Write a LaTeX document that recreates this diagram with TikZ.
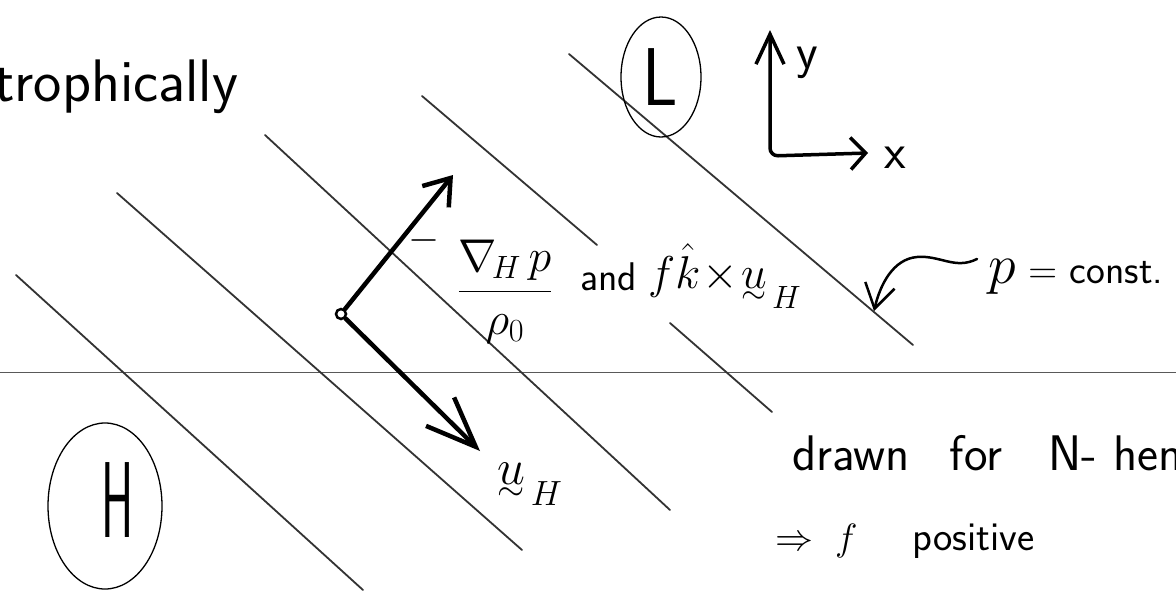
\RequirePackage{fix-cm}
\documentclass[tikz,border=0pt]{standalone}
\usepackage{amsmath}
\usepackage{graphicx}
\usetikzlibrary{arrows.meta,shapes.geometric}
\begin{document}
\begin{tikzpicture}[x=1pt,y=-1pt,
  contour/.style={draw=black!80, line width=1.8pt, line cap=round},
  ruleline/.style={draw=black!65, line width=1pt},
  ring/.style={ellipse, draw, line width=1.3pt, inner sep=0pt},
  vecgrad/.style={line width=4.5pt, line cap=round, -{Straight Barb[length=24pt,width=34pt]}},
  vecu/.style={line width=4.5pt, line cap=round, -{Straight Barb[length=50pt,width=40pt]}},
  axisline/.style={line width=3.5pt, line cap=round, rounded corners=8pt,
    {Straight Barb[length=30pt,width=28pt]}-{Straight Barb[length=15pt,width=32pt]}},
  wavy/.style={line width=2.5pt, line cap=round, -{Straight Barb[length=24pt,width=30pt]}},
  big/.style={inner sep=0pt, font=\sffamily\fontsize{60}{66}\selectfont},
  mid/.style={inner sep=0pt, font=\sffamily\fontsize{50}{55}\selectfont},
  eq/.style={inner sep=0pt, font=\sffamily\fontsize{40}{44}\selectfont},
  eqbig/.style={inner sep=0pt, font=\sffamily\fontsize{46}{50}\selectfont},
  small/.style={inner sep=0pt, font=\sffamily\fontsize{38}{42}\selectfont},
  letterL/.style={inner sep=0pt, font=\sffamily\fontsize{82}{90}\selectfont},
  letterH/.style={inner sep=0pt, font=\sffamily\fontsize{108}{115}\selectfont}]
\useasboundingbox (0,0) rectangle (1176,603);
\clip (0,0) rectangle (1176,603);
\fill[white] (0,0) rectangle (1176,603);

% horizontal rule
\draw[ruleline] (0,372) -- (1176,372);

% isobars
\draw[contour] (16,275) -- (363,590);
\draw[contour] (117,193) -- (522,550);
\draw[contour] (265,135) -- (670,510);
\draw[contour] (422,96) -- (597,245);
\draw[contour] (569,54) -- (913,345);
\draw[contour] (670,323) -- (772,412);

% title word (cut off at left)
\node[big, anchor=base west] (title) at (-6,101) {trophically};

% circled L and H
\node[ring, minimum width=80pt, minimum height=120pt] (Lring) at (661,77) {};
\node[letterL] (Ltext) at (660,77) {\scalebox{0.85}[1]{L}};
\node[ring, minimum width=114pt, minimum height=166pt] (Hring) at (105,506) {};
\node[letterH] (Htext) at (118,500) {\scalebox{0.45}[1]{H}};

% axes
\coordinate (ax0) at (770,156);
\coordinate (ytip) at (770,30);
\coordinate (xtip) at (868,153);
\draw[axisline] (ytip) -- (ax0) -- (xtip);
\node[mid, anchor=base west] (ylab) at (796,68) {y};
\node[mid, anchor=base west] (xlab) at (884,168) {x};

% vectors
\node[circle, draw, line width=2.5pt, fill=white, minimum size=10pt, inner sep=0pt] (o) at (341,314) {};
\coordinate (gradtip) at (453,175);
\coordinate (utip) at (480,451);
\draw[vecgrad] (o) -- (gradtip);
\draw[vecu] (o) -- (utip);

% labels of vectors
\node[eq] (minus) at (424,240) {$-$};
\node[eqbig] (frac) at (505,292) {$\dfrac{\nabla_{\!H}\,p}{\rho_0}$};
\node[eq, anchor=base west] (andw) at (580,290) {and};
\node[eqbig, anchor=base west] (cor) at (648,288) {$f\hat{k}\!\times\!\underset{\sim}{u}_{\,H}$};
\node[mid, anchor=base west] (ulab) at (497,484) {$\underset{\sim}{u}_{\,H}$};

% p = const
\node[eq, anchor=base west] (pc) at (988,283) {{\fontsize{56}{60}\selectfont$p$} = const.};
\coordinate (wstart) at (977,259);
\coordinate (c5) at (874,311);
\draw[wavy] (wstart) .. controls (955,270) and (940,255) .. (917,257) .. controls (893,259) and (880,285) .. (c5);

% note
\node[mid, anchor=base west] (note) at (792,470) {drawn\hspace{40pt}for\hspace{46pt}N-\hspace{16pt}hem};
\node[small, anchor=base west] (note2) at (775,550) {$\Rightarrow$\hspace{22pt}$f$\hspace{55pt}{\fontsize{41}{45}\selectfont positive}};
\end{tikzpicture}
\end{document}
